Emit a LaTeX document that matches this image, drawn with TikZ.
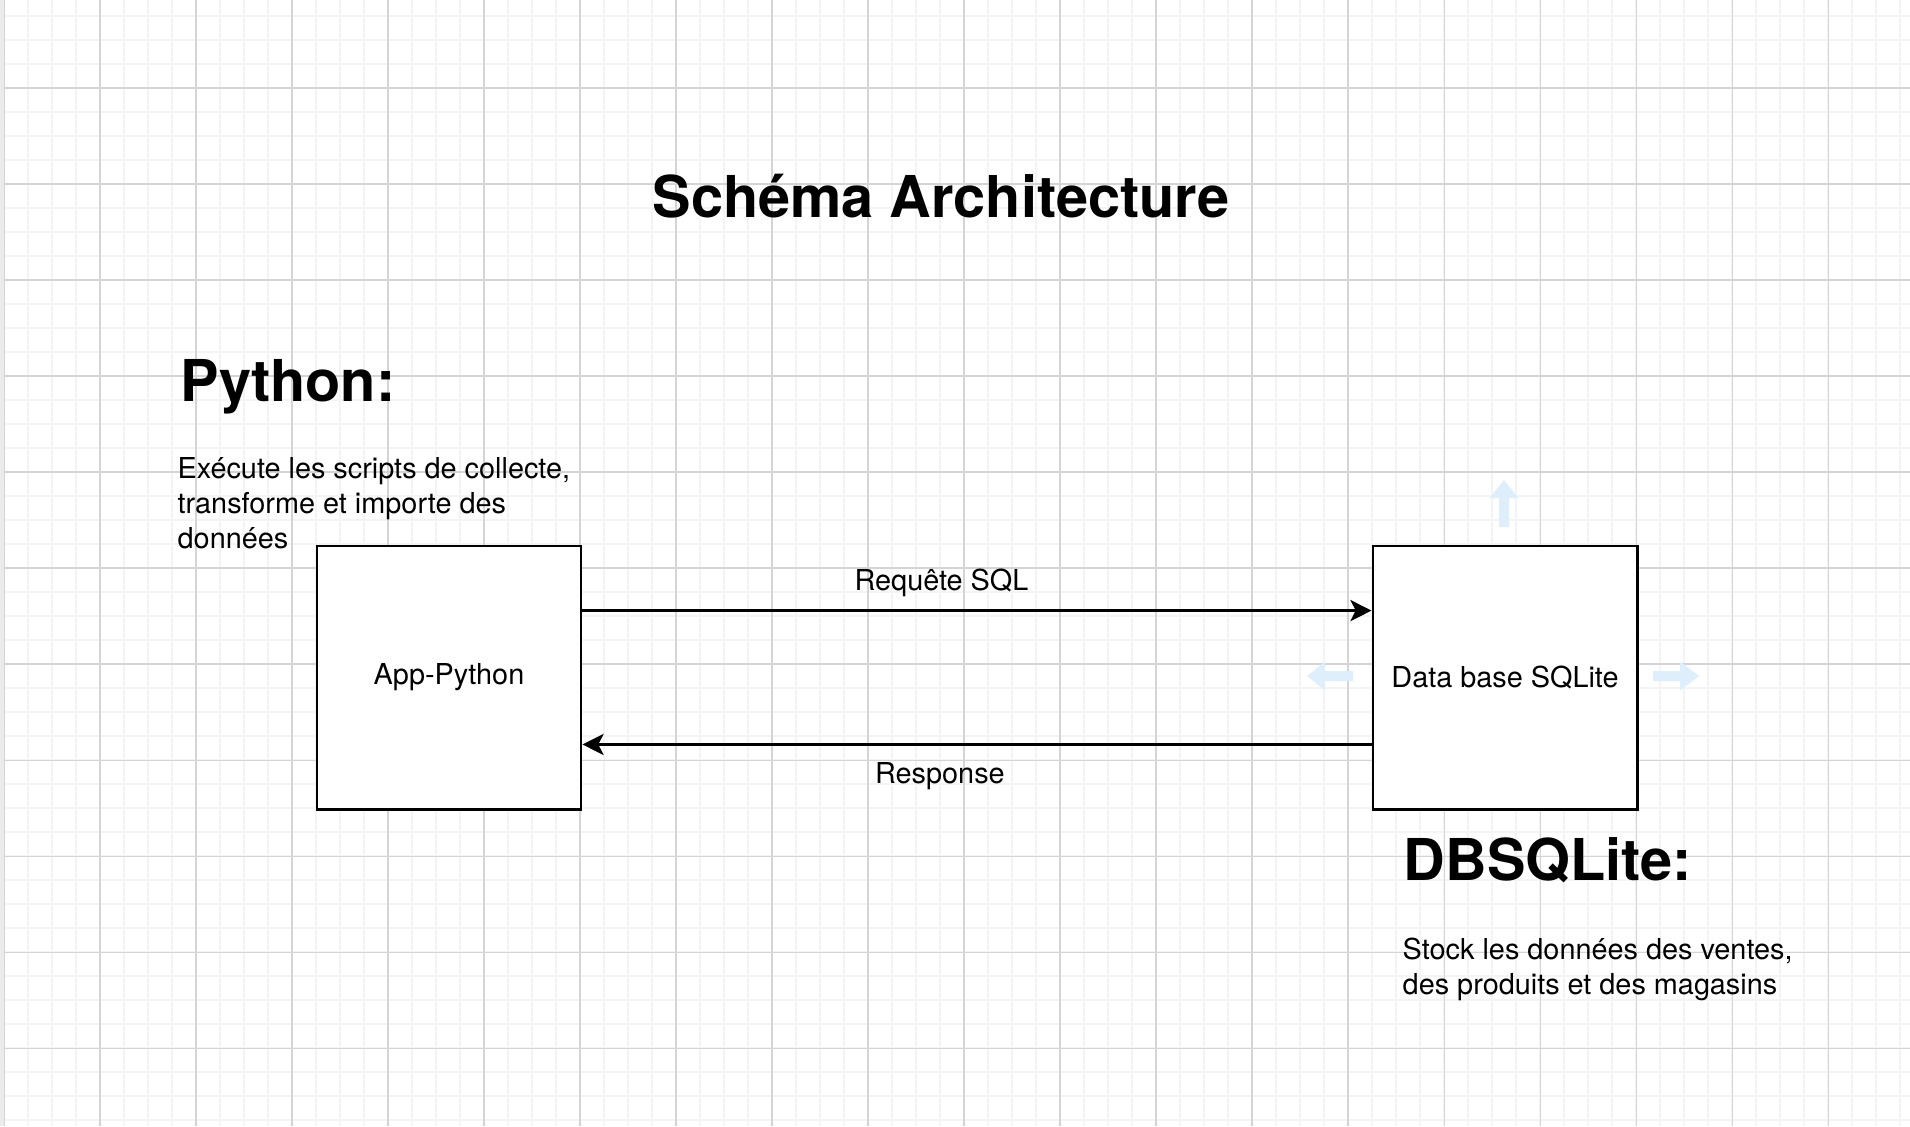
\documentclass[tikz,border=0pt]{standalone}
\usepackage{fontspec}
\setmainfont{TeX Gyre Heros}
\usetikzlibrary{arrows.meta}
\definecolor{minorgrid}{RGB}{244,244,244}
\definecolor{majorgrid}{RGB}{212,212,212}
\definecolor{hoverblue}{RGB}{222,239,251}
\tikzset{
  minorline/.style={minorgrid, line width=0.45pt},
  majorline/.style={majorgrid, line width=0.3pt},
  box/.style={draw, line width=0.8pt, fill=white, minimum width=2.64cm, minimum height=2.63cm, inner sep=0pt, font=\fontsize{8.2}{9.83}\selectfont},
  flow/.style={line width=0.75pt, -{Stealth[length=6pt,width=6pt,inset=1.5pt]}},
  heading/.style={inner sep=0pt, anchor=base west, font=\fontsize{16.4}{19.7}\selectfont\bfseries},
  note/.style={inner sep=0pt, anchor=base west, align=left, font=\fontsize{8.2}{9.83}\selectfont},
  lbl/.style={inner sep=0pt, anchor=base, font=\fontsize{8.2}{9.83}\selectfont},
}
\begin{document}
\begin{tikzpicture}[x=0.01cm, y=-0.01cm]
\useasboundingbox (0,0) rectangle (1910,1126);
% background grid
\fill[white] (0,0) rectangle (1910,1126);
\foreach \gx in {4,28,...,1910} \draw[minorline] (\gx,0) -- (\gx,1126);
\foreach \gy in {16,40,...,1126} \draw[minorline] (0,\gy) -- (1910,\gy);
\foreach \gx in {4,100,...,1910} \draw[majorline] (\gx,0) -- (\gx,1126);
\foreach \gy in {88,184,...,1126} \draw[majorline] (0,\gy) -- (1910,\gy);
\fill[black!8] (0,0) rectangle (4,1126);
% titles (notes are placed by their last line)
\node[heading, anchor=base] (title) at (941,217) {Schéma Architecture};
\node[heading] (pyhead) at (180,401) {Python:};
\node[note] (pynote) at (177,548) {Exécute les scripts de collecte,\\transforme et importe des\\données};
\node[heading] (dbhead) at (1403,880) {DBSQLite:};
\node[note] (dbnote) at (1402,994.5) {Stock les données des ventes,\\des produits et des magasins};
% hover arrows
\fill[hoverblue] (1499,527) -- (1499,498) -- (1489.5,498) -- (1504,480) -- (1518.5,498) -- (1509,498) -- (1509,527) -- cycle;
\fill[hoverblue] (1353,671) -- (1325,671) -- (1325,661.5) -- (1307,676) -- (1325,690.5) -- (1325,681) -- (1353,681) -- cycle;
\fill[hoverblue] (1653,671) -- (1680,671) -- (1680,661.5) -- (1699,676) -- (1680,690.5) -- (1680,681) -- (1653,681) -- cycle;
% boxes
\node[box] (app) at (449,677.5) {App-Python};
\node[box] (db) at (1505,677.5) {Data base SQLite};
\draw[flow] ([yshift=-0.66cm]app.north east) -- ([yshift=-0.66cm]db.north west) node[lbl, pos=0.455, yshift=0.2cm] (req) {Requête SQL};
\draw[flow] ([yshift=0.66cm]db.south west) -- ([yshift=0.66cm]app.south east) node[lbl, pos=0.547, yshift=-0.39cm] (resp) {Response};
\end{tikzpicture}
\end{document}
